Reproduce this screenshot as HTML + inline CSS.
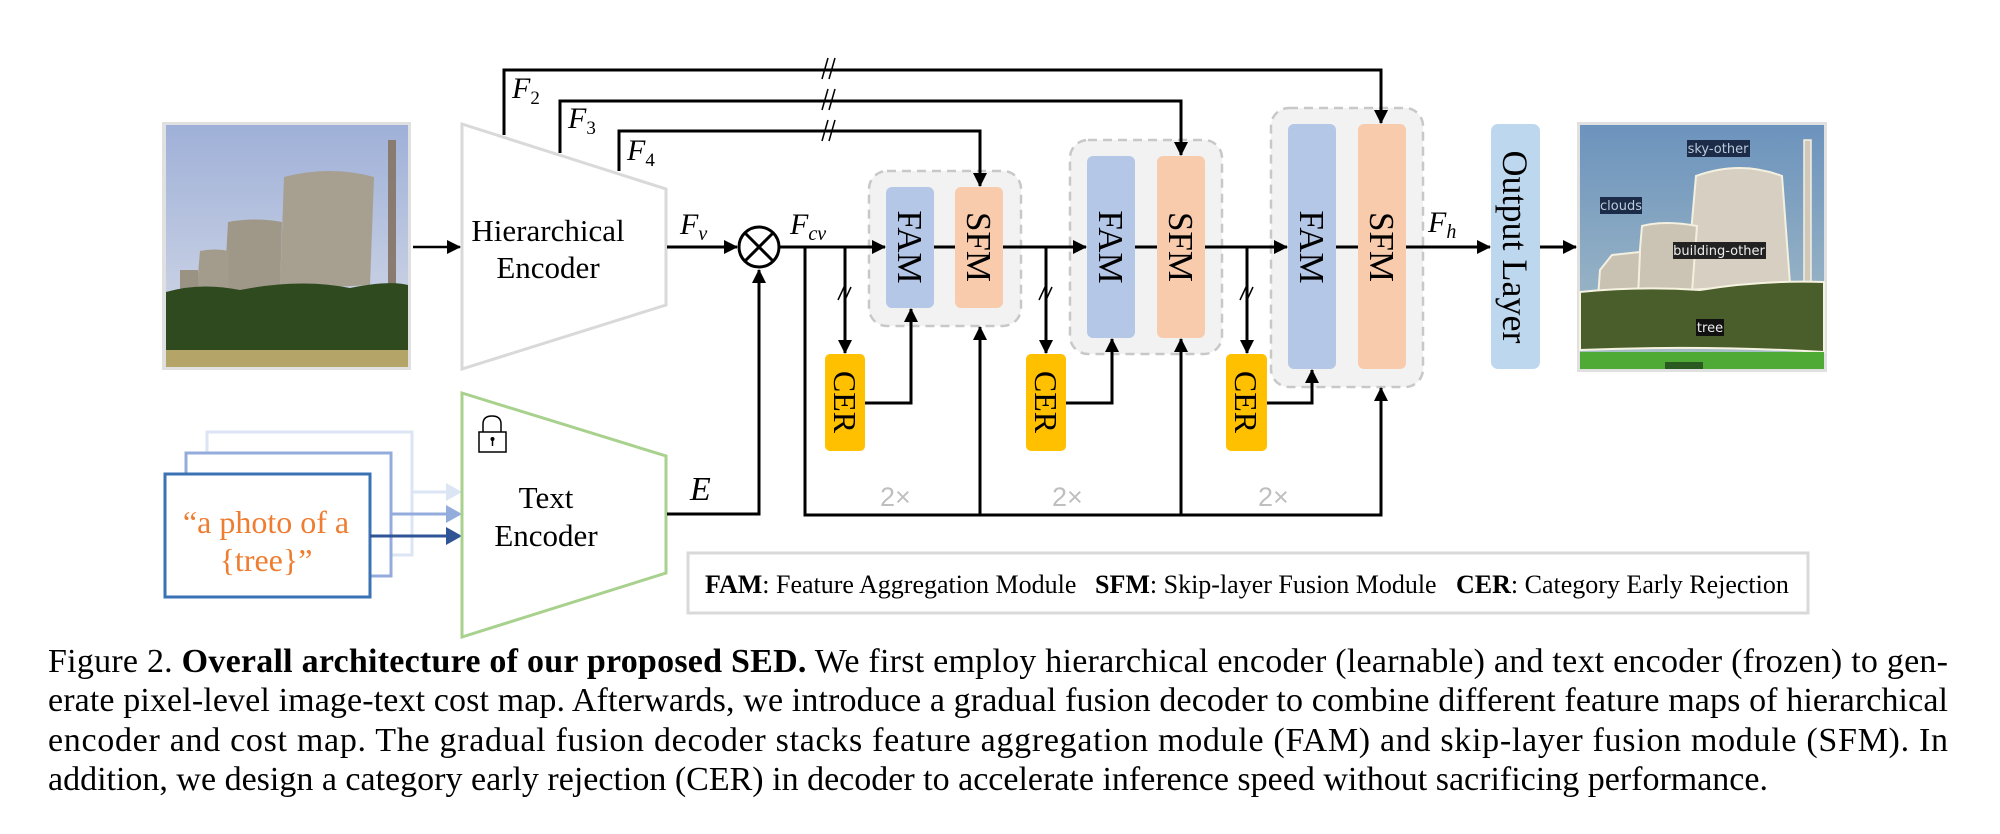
<!DOCTYPE html>
<html><head><meta charset="utf-8"><style>
html,body{margin:0;padding:0;background:#fff;}
svg{display:block;}
text{font-family:"Liberation Serif",serif;}
</style></head><body>
<svg width="2000" height="834" viewBox="0 0 2000 834" xmlns="http://www.w3.org/2000/svg">
<defs>
<marker id="ahb" markerWidth="14" markerHeight="14" refX="13" refY="7" orient="auto" markerUnits="userSpaceOnUse"><path d="M0,0 L14,7 L0,14 z" fill="#000"/></marker>
<linearGradient id="sky" x1="0" y1="0" x2="0" y2="1"><stop offset="0" stop-color="#9fb0d8"/><stop offset="1" stop-color="#d8dde8"/></linearGradient>
<linearGradient id="sky2" x1="0" y1="0" x2="0" y2="1"><stop offset="0" stop-color="#6c93bd"/><stop offset="1" stop-color="#a9c0c8"/></linearGradient>
</defs>

<rect x="162" y="122" width="249" height="248" fill="#e0e0e0"/>
<rect x="166" y="125" width="242" height="242" fill="url(#sky)"/>
<path d="M284,177 Q330,165 374,177 L370,285 L280,290 Z" fill="#a79f8f"/>
<path d="M228,222 Q255,217 282,222 L280,292 L224,295 Z" fill="#9f9888"/>
<path d="M200,251 Q215,248 229,251 L228,295 L196,298 Z" fill="#a39b8c"/>
<rect x="180" y="270" width="18" height="30" fill="#9a9384"/>
<rect x="388" y="140" width="8" height="148" fill="#8a7b70"/>
<path d="M166,292 Q200,282 240,290 Q300,278 350,288 Q390,280 408,285 L408,352 L166,352 Z" fill="#2f4a1f"/>
<rect x="166" y="350" width="242" height="17" fill="#b4a468"/>

<path d="M462,124 L666,189 L666,305 L462,369 Z" fill="#fff" stroke="#d9d9d9" stroke-width="3"/>
<text x="548" y="241" font-size="31" text-anchor="middle">Hierarchical</text>
<text x="548" y="278" font-size="31" text-anchor="middle">Encoder</text>
<line x1="413" y1="247" x2="460" y2="247" stroke="#000" stroke-width="2.5" marker-end="url(#ahb)"/>

<rect x="207" y="432" width="205" height="123" fill="#fff" stroke="#dbe5f4" stroke-width="3"/>
<rect x="186" y="453" width="205" height="123" fill="#fff" stroke="#93acdc" stroke-width="3"/>
<rect x="165" y="474" width="205" height="123" fill="#fff" stroke="#3a72b4" stroke-width="3"/>
<text x="266" y="533" font-size="32" text-anchor="middle" fill="#ee7d31">“a photo of a</text>
<text x="266" y="571" font-size="32" text-anchor="middle" fill="#ee7d31">{tree}”</text>
<line x1="412" y1="492" x2="448" y2="492" stroke="#dbe5f4" stroke-width="3"/><path d="M446,483 L462,492 L446,501 z" fill="#dbe5f4"/>
<line x1="391" y1="514" x2="448" y2="514" stroke="#93acdc" stroke-width="3"/><path d="M446,505 L462,514 L446,523 z" fill="#93acdc"/>
<line x1="370" y1="536" x2="448" y2="536" stroke="#2f5597" stroke-width="3"/><path d="M446,527 L462,536 L446,545 z" fill="#2f5597"/>

<path d="M462,393 L666,456 L666,573 L462,637 Z" fill="#fff" stroke="#a9d18e" stroke-width="3"/>
<text x="546" y="508" font-size="31" text-anchor="middle">Text</text>
<text x="546" y="546" font-size="31" text-anchor="middle">Encoder</text>
<path d="M483,432 L483,424 Q483,416 492,416 Q501,416 501,424 L501,432" fill="none" stroke="#000" stroke-width="1.5"/>
<rect x="479" y="432" width="27" height="20" fill="#fff" stroke="#000" stroke-width="1.5"/>
<circle cx="492.5" cy="439" r="2" fill="#000"/><line x1="492.5" y1="440" x2="492.5" y2="446" stroke="#000" stroke-width="1.5"/>

<rect x="869" y="171" width="152" height="155" rx="18" fill="#f2f2f2" stroke="#c8c8c8" stroke-width="2.5" stroke-dasharray="9,6"/>
<rect x="886" y="187" width="48" height="121" rx="6" fill="#b4c7e7"/>
<rect x="955" y="187" width="48" height="121" rx="6" fill="#f8cbad"/>
<rect x="1070" y="140" width="152" height="214" rx="18" fill="#f2f2f2" stroke="#c8c8c8" stroke-width="2.5" stroke-dasharray="9,6"/>
<rect x="1087" y="156" width="48" height="182" rx="6" fill="#b4c7e7"/>
<rect x="1157" y="156" width="48" height="182" rx="6" fill="#f8cbad"/>
<rect x="1271" y="108" width="152" height="279" rx="18" fill="#f2f2f2" stroke="#c8c8c8" stroke-width="2.5" stroke-dasharray="9,6"/>
<rect x="1288" y="124" width="48" height="245" rx="6" fill="#b4c7e7"/>
<rect x="1358" y="124" width="48" height="245" rx="6" fill="#f8cbad"/>

<g stroke="#000" stroke-width="3" fill="none">
<polyline points="504,135 504,70 1381,70 1381,123" marker-end="url(#ahb)"/>
<polyline points="560,153 560,101 1181,101 1181,155" marker-end="url(#ahb)"/>
<polyline points="619,171 619,131 980,131 980,186" marker-end="url(#ahb)"/>
</g>
<g stroke="#000" stroke-width="1.5">
<line x1="822" y1="79" x2="828" y2="58"/><line x1="829" y1="79" x2="835" y2="58"/>
<line x1="822" y1="110" x2="828" y2="89"/><line x1="829" y1="110" x2="835" y2="89"/>
<line x1="822" y1="141" x2="828" y2="120"/><line x1="829" y1="141" x2="835" y2="120"/>
</g>
<text x="512" y="98" font-size="30" font-style="italic">F<tspan font-size="19" dy="6" font-style="normal">2</tspan></text>
<text x="568" y="128" font-size="30" font-style="italic">F<tspan font-size="19" dy="6" font-style="normal">3</tspan></text>
<text x="627" y="160" font-size="30" font-style="italic">F<tspan font-size="19" dy="6" font-style="normal">4</tspan></text>

<line x1="667" y1="247" x2="737" y2="247" stroke="#000" stroke-width="3" marker-end="url(#ahb)"/>
<text x="680" y="234" font-size="30" font-style="italic">F<tspan font-size="20" dy="6">v</tspan></text>
<circle cx="759" cy="247" r="20" fill="#fff" stroke="#000" stroke-width="3"/>
<line x1="745" y1="233" x2="773" y2="261" stroke="#000" stroke-width="3"/><line x1="773" y1="233" x2="745" y2="261" stroke="#000" stroke-width="3"/>
<polyline points="667,514 759,514 759,270" fill="none" stroke="#000" stroke-width="3" marker-end="url(#ahb)"/>
<text x="690" y="500" font-size="34" font-style="italic">E</text>
<line x1="779" y1="247" x2="885" y2="247" stroke="#000" stroke-width="3" marker-end="url(#ahb)"/>
<text x="790" y="234" font-size="30" font-style="italic">F<tspan font-size="20" dy="6">cv</tspan></text>

<polyline points="805,247 805,515 1381,515 1381,388" fill="none" stroke="#000" stroke-width="3" marker-end="url(#ahb)"/>
<line x1="980" y1="515" x2="980" y2="327" stroke="#000" stroke-width="3" marker-end="url(#ahb)"/>
<line x1="1181" y1="515" x2="1181" y2="339" stroke="#000" stroke-width="3" marker-end="url(#ahb)"/>
<g font-size="27" fill="#bfbfbf"><text x="880" y="506" style="font-family:'Liberation Sans',sans-serif">2×</text><text x="1052" y="506" style="font-family:'Liberation Sans',sans-serif">2×</text><text x="1258" y="506" style="font-family:'Liberation Sans',sans-serif">2×</text></g>

<line x1="934" y1="247" x2="955" y2="247" stroke="#000" stroke-width="3"/>
<line x1="1003" y1="247" x2="1086" y2="247" stroke="#000" stroke-width="3" marker-end="url(#ahb)"/>
<line x1="1135" y1="247" x2="1157" y2="247" stroke="#000" stroke-width="3"/>
<line x1="1205" y1="247" x2="1287" y2="247" stroke="#000" stroke-width="3" marker-end="url(#ahb)"/>
<line x1="1336" y1="247" x2="1358" y2="247" stroke="#000" stroke-width="3"/>
<line x1="1406" y1="247" x2="1490" y2="247" stroke="#000" stroke-width="3" marker-end="url(#ahb)"/>
<g font-size="35" text-anchor="middle">
<text transform="translate(910,247) rotate(90)" dy="12">FAM</text>
<text transform="translate(979,247) rotate(90)" dy="12">SFM</text>
<text transform="translate(1111,247) rotate(90)" dy="12">FAM</text>
<text transform="translate(1181,247) rotate(90)" dy="12">SFM</text>
<text transform="translate(1312,247) rotate(90)" dy="12">FAM</text>
<text transform="translate(1382,247) rotate(90)" dy="12">SFM</text>
</g>
<text x="1428" y="232" font-size="30" font-style="italic">F<tspan font-size="20" dy="6">h</tspan></text>

<g stroke="#000" stroke-width="3" fill="none">
<polyline points="845,247 845,353" marker-end="url(#ahb)"/>
<polyline points="864,403 911,403 911,309" marker-end="url(#ahb)"/>
<polyline points="1046,247 1046,353" marker-end="url(#ahb)"/>
<polyline points="1066,403 1112,403 1112,339" marker-end="url(#ahb)"/>
<polyline points="1247,247 1247,353" marker-end="url(#ahb)"/>
<polyline points="1267,403 1312,403 1312,370" marker-end="url(#ahb)"/>
</g>
<g stroke="#000" stroke-width="1.5">
<line x1="838" y1="300" x2="845" y2="285"/><line x1="844" y1="302" x2="851" y2="287"/>
<line x1="1039" y1="300" x2="1046" y2="285"/><line x1="1045" y1="302" x2="1052" y2="287"/>
<line x1="1240" y1="300" x2="1247" y2="285"/><line x1="1246" y1="302" x2="1253" y2="287"/>
</g>
<rect x="825" y="354" width="40" height="97" rx="5" fill="#ffc000"/>
<rect x="1026" y="354" width="40" height="97" rx="5" fill="#ffc000"/>
<rect x="1226" y="354" width="41" height="97" rx="5" fill="#ffc000"/>
<g font-size="32" text-anchor="middle">
<text transform="translate(845,402) rotate(90)" dy="11">CER</text>
<text transform="translate(1046,402) rotate(90)" dy="11">CER</text>
<text transform="translate(1246,402) rotate(90)" dy="11">CER</text>
</g>

<rect x="1491" y="124" width="49" height="245" rx="7" fill="#bdd7ee"/>
<text transform="translate(1515,247) rotate(90)" font-size="36" text-anchor="middle" dy="12">Output Layer</text>
<line x1="1540" y1="247" x2="1576" y2="247" stroke="#000" stroke-width="3" marker-end="url(#ahb)"/>

<rect x="1577" y="122" width="250" height="250" fill="#e0e0e0"/>
<rect x="1580" y="125" width="244" height="244" fill="url(#sky2)"/>
<path d="M1696,176 Q1740,160 1782,176 L1790,284 L1686,290 Z" fill="#d6cfc2" stroke="#f4f0e0" stroke-width="2"/>
<path d="M1642,226 Q1665,220 1697,226 L1692,292 L1636,296 Z" fill="#cbc3b4" stroke="#f4f0e0" stroke-width="2"/>
<path d="M1612,255 L1640,252 L1638,298 L1598,298 L1600,270 Z" fill="#c9c2b3" stroke="#f4f0e0" stroke-width="2"/>
<rect x="1804" y="140" width="7" height="146" fill="#cfc8bb" stroke="#f4f0e0" stroke-width="1.5"/>
<path d="M1580,292 Q1640,286 1700,290 Q1760,280 1824,282 L1824,352 Q1700,345 1580,350 Z" fill="#4a5e2c" stroke="#f6f2e0" stroke-width="2"/>
<rect x="1580" y="352" width="244" height="17" fill="#4faa35"/>
<rect x="1687" y="140" width="63" height="17" fill="#1c2c48"/><text x="1718" y="153" font-size="13" fill="#bcd" text-anchor="middle" style="font-family:'DejaVu Sans',sans-serif">sky-other</text>
<rect x="1600" y="197" width="42" height="17" fill="#1c2c48"/><text x="1621" y="210" font-size="13" fill="#bcd" text-anchor="middle" style="font-family:'DejaVu Sans',sans-serif">clouds</text>
<rect x="1673" y="242" width="93" height="17" fill="#222"/><text x="1719" y="255" font-size="13" fill="#eee" text-anchor="middle" style="font-family:'DejaVu Sans',sans-serif">building-other</text>
<rect x="1696" y="319" width="28" height="17" fill="#111"/><text x="1710" y="332" font-size="13" fill="#eee" text-anchor="middle" style="font-family:'DejaVu Sans',sans-serif">tree</text>
<rect x="1665" y="362" width="38" height="7" fill="#2a5a20"/>

<rect x="688" y="553" width="1120" height="60" fill="#fff" stroke="#d9d9d9" stroke-width="3"/>
<g font-size="26">
<text x="705" y="593"><tspan font-weight="bold">FAM</tspan>: Feature Aggregation Module</text>
<text x="1095" y="593"><tspan font-weight="bold">SFM</tspan>: Skip-layer Fusion Module</text>
<text x="1456" y="593"><tspan font-weight="bold">CER</tspan>: Category Early Rejection</text>
</g>

<g font-size="34">
<text x="48" y="672" textLength="1900" lengthAdjust="spacing">Figure 2. <tspan font-weight="bold">Overall architecture of our proposed SED.</tspan> We first employ hierarchical encoder (learnable) and text encoder (frozen) to gen-</text>
<text x="48" y="711" textLength="1900" lengthAdjust="spacing">erate pixel-level image-text cost map. Afterwards, we introduce a gradual fusion decoder to combine different feature maps of hierarchical</text>
<text x="48" y="751" textLength="1900" lengthAdjust="spacing">encoder and cost map.  The gradual fusion decoder stacks feature aggregation module (FAM) and skip-layer fusion module (SFM). In</text>
<text x="48" y="790">addition, we design a category early rejection (CER) in decoder to accelerate inference speed without sacrificing performance.</text>
</g>
</svg>
</body></html>
